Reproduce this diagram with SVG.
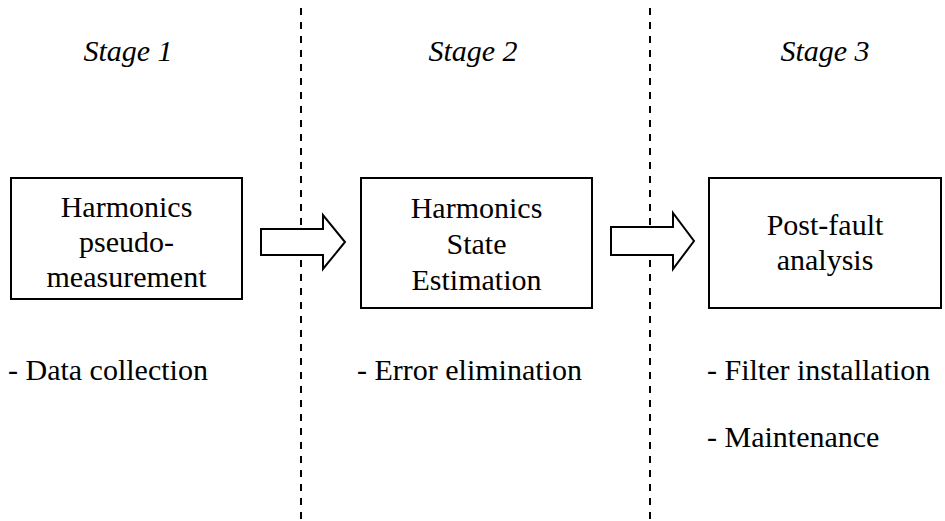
<svg xmlns="http://www.w3.org/2000/svg" width="945" height="521" viewBox="0 0 945 521">
  <rect width="945" height="521" fill="#fff"/>

  <!-- stage dividers -->
  <g id="dividers" stroke="#000" stroke-width="2" stroke-dasharray="7 7" fill="none">
    <line x1="301" y1="8" x2="301" y2="521"/>
    <line x1="650" y1="8" x2="650" y2="521"/>
  </g>

  <!-- stage headings -->
  <g id="headings" fill="#000">
    <text x="128" y="61" font-family="'Liberation Serif', serif" font-size="30" font-style="italic" text-anchor="middle">Stage 1</text>
    <text x="473" y="61" font-family="'Liberation Serif', serif" font-size="30" font-style="italic" text-anchor="middle">Stage 2</text>
    <text x="825" y="61" font-family="'Liberation Serif', serif" font-size="30" font-style="italic" text-anchor="middle">Stage 3</text>
  </g>

  <!-- block arrows between stages -->
  <g id="connectors" fill="#fff" stroke="#000" stroke-width="2" stroke-linejoin="miter">
    <polygon points="261,229 323,229 323,215 345,242 323,269 323,255 261,255"/>
    <polygon points="611,227 673,227 673,213 694,241 673,269 673,255 611,255"/>
  </g>

  <g id="node-pseudo-measurement">
    <rect x="11" y="178" width="231" height="121" fill="#fff" stroke="#000" stroke-width="2"/>
    <text x="126.5" y="217" font-family="'Liberation Serif', serif" font-size="30" text-anchor="middle">Harmonics</text>
    <text x="126.5" y="252" font-family="'Liberation Serif', serif" font-size="30" text-anchor="middle">pseudo-</text>
    <text x="126.5" y="287" font-family="'Liberation Serif', serif" font-size="30" text-anchor="middle">measurement</text>
  </g>

  <g id="node-state-estimation">
    <rect x="361" y="178" width="231" height="130" fill="#fff" stroke="#000" stroke-width="2"/>
    <text x="476.5" y="218" font-family="'Liberation Serif', serif" font-size="30" text-anchor="middle">Harmonics</text>
    <text x="476.5" y="254" font-family="'Liberation Serif', serif" font-size="30" text-anchor="middle">State</text>
    <text x="476.5" y="290" font-family="'Liberation Serif', serif" font-size="30" text-anchor="middle">Estimation</text>
  </g>

  <g id="node-post-fault">
    <rect x="709" y="178" width="232" height="130" fill="#fff" stroke="#000" stroke-width="2"/>
    <text x="825" y="235" font-family="'Liberation Serif', serif" font-size="30" text-anchor="middle">Post-fault</text>
    <text x="825" y="270" font-family="'Liberation Serif', serif" font-size="30" text-anchor="middle">analysis</text>
  </g>

  <!-- stage tasks -->
  <g id="tasks">
    <text x="8" y="380" font-family="'Liberation Serif', serif" font-size="30">- Data collection</text>
    <text x="357" y="380" font-family="'Liberation Serif', serif" font-size="30">- Error elimination</text>
    <text x="707" y="380" font-family="'Liberation Serif', serif" font-size="30">- Filter installation</text>
    <text x="707" y="447" font-family="'Liberation Serif', serif" font-size="30">- Maintenance</text>
  </g>
</svg>
